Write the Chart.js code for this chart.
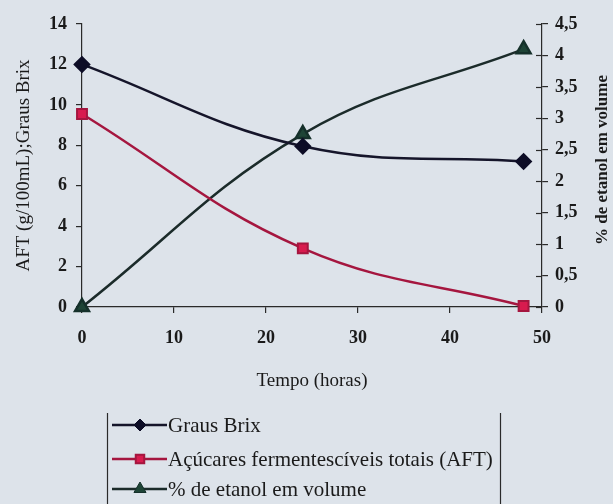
<!DOCTYPE html>
<html>
<head>
<meta charset="utf-8">
<script src="https://cdn.jsdelivr.net/npm/chart.js@4.4.1/dist/chart.umd.min.js"></script>
<style>
  body { margin: 0; background: #dde3ea; }
  canvas { display: block; }
</style>
</head>
<body>
<canvas id="grafico" width="613" height="504"></canvas>
<script>
// dados
const tempo = [0, 24, 48];
const grausBrix = [12, 7.95, 7.2];
const aft = [9.55, 2.9, 0.05];
const etanol = [0, 2.75, 4.1];
const nomes = ['Graus Brix', 'Açúcares fermentescíveis totais (AFT)', '% de etanol em volume'];
const ticksX = [0, 10, 20, 30, 40, 50];

const fonte = "'Liberation Serif', 'Times New Roman', serif";
const corTexto = '#1a1a1a';
const corEixo = '#2a2a2a';

const pontos = (ys) => tempo.map((t, i) => ({ x: t, y: ys[i] }));

const dados = {
    datasets: [{
        label: nomes[0],
        data: pontos(grausBrix),
        yAxisID: 'y',
        borderColor: '#15152a',
        pointBackgroundColor: '#0d0d26',
        pointBorderColor: '#0d0d26',
        pointStyle: 'rectRot',
        pointRadius: 7,
        borderWidth: 2.5,
        tension: 0.4
    }, {
        label: nomes[1],
        data: pontos(aft),
        yAxisID: 'y',
        borderColor: '#a5163f',
        pointBackgroundColor: '#d81b4e',
        pointBorderColor: '#a5163f',
        pointStyle: 'rect',
        pointRadius: 7,
        pointBorderWidth: 2,
        borderWidth: 2.5,
        tension: 0.4
    }, {
        label: nomes[2],
        data: pontos(etanol),
        yAxisID: 'y1',
        borderColor: '#1b2b2a',
        pointBackgroundColor: '#1e4436',
        pointBorderColor: '#15302a',
        pointStyle: 'triangle',
        pointRadius: 8,
        borderWidth: 2.5,
        tension: 0.4
    }]
};

// fundo, ticks internos do eixo direito, título direito e legenda
const extras = {
    id: 'extras',
    beforeDraw(chart) {
        const ctx = chart.ctx;
        ctx.save();
        ctx.fillStyle = '#dde3ea';
        ctx.fillRect(0, 0, chart.width, chart.height);
        ctx.restore();
    },
    afterDraw(chart) {
        const ctx = chart.ctx;
        const y1 = chart.scales.y1;
        ctx.save();
        ctx.strokeStyle = corEixo;
        ctx.lineWidth = 1.2;
        y1.ticks.forEach(t => {
            const py = Math.round(y1.getPixelForValue(t.value)) + 0.5;
            ctx.beginPath();
            ctx.moveTo(y1.left - 6, py);
            ctx.lineTo(y1.left, py);
            ctx.stroke();
        });

        // título do eixo direito (lido de baixo para cima)
        ctx.translate(603, 160);
        ctx.rotate(-Math.PI / 2);
        ctx.fillStyle = corTexto;
        ctx.font = 'bold 17px ' + fonte;
        ctx.textAlign = 'center';
        ctx.textBaseline = 'middle';
        ctx.fillText('% de etanol em volume', 0, 0);
        ctx.restore();

        // legenda
        ctx.save();
        ctx.strokeStyle = corEixo;
        ctx.lineWidth = 1.2;
        [107, 500].forEach(x => {
            ctx.beginPath();
            ctx.moveTo(x + 0.5, 413);
            ctx.lineTo(x + 0.5, 504);
            ctx.stroke();
        });
        const linhas = [425, 459, 489];
        chart.data.datasets.forEach((ds, i) => {
            const y = linhas[i];
            ctx.strokeStyle = ds.borderColor;
            ctx.lineWidth = 2.5;
            ctx.beginPath();
            ctx.moveTo(112, y);
            ctx.lineTo(167, y);
            ctx.stroke();
            ctx.fillStyle = ds.pointBackgroundColor;
            ctx.strokeStyle = ds.pointBorderColor;
            ctx.lineWidth = ds.pointBorderWidth || 1;
            Chart.helpers.drawPoint(ctx, {
                pointStyle: ds.pointStyle,
                radius: ds.pointRadius - 1,
                rotation: 0,
                borderWidth: ds.pointBorderWidth || 1
            }, 140, y);
            ctx.fillStyle = corTexto;
            ctx.font = '21px ' + fonte;
            ctx.textAlign = 'left';
            ctx.textBaseline = 'middle';
            ctx.fillText(ds.label, 168, y + 1);
        });
        ctx.restore();
    }
};

const eixoGrid = {
    display: true,
    drawOnChartArea: false,
    drawTicks: true,
    tickLength: 6,
    color: corEixo,
    lineWidth: 1.2
};

const config = {
    type: 'line',
    data: dados,
    options: {
        responsive: false,
        animation: false,
        clip: false,
        layout: { padding: { top: 24, left: 0, right: 0, bottom: 0 } },
        plugins: {
            legend: { display: false },
            tooltip: { enabled: false }
        },
        scales: {
            x: {
                type: 'linear',
                min: 0,
                max: 50,
                afterFit: (s) => { s.height = 197; },
                afterBuildTicks: (s) => { s.ticks = ticksX.map(v => ({ value: v })); },
                ticks: { color: corTexto, font: { family: fonte, size: 18, weight: 'bold' }, padding: 15 },
                grid: eixoGrid,
                border: { color: corEixo, width: 1.2 },
                title: {
                    display: true,
                    text: 'Tempo (horas)',
                    color: corTexto,
                    font: { family: fonte, size: 19 },
                    padding: { top: 0, bottom: 112 }
                }
            },
            y: {
                position: 'left',
                min: 0,
                max: 14,
                afterFit: (s) => { s.width = 82; },
                ticks: { stepSize: 2, color: corTexto, font: { family: fonte, size: 18, weight: 'bold' }, padding: 9 },
                grid: eixoGrid,
                border: { color: corEixo, width: 1.2 },
                title: {
                    display: true,
                    text: 'AFT (g/100mL);Graus Brix',
                    color: corTexto,
                    font: { family: fonte, size: 19 },
                    padding: { top: 13, bottom: 0 }
                }
            },
            y1: {
                position: 'right',
                min: 0,
                max: 4.5,
                afterFit: (s) => { s.width = 71; },
                ticks: {
                    stepSize: 0.5,
                    color: corTexto,
                    font: { family: fonte, size: 18, weight: 'bold' },
                    padding: 7,
                    callback: (v) => String(v).replace('.', ',')
                },
                grid: eixoGrid,
                border: { color: corEixo, width: 1.2 }
            }
        }
    },
    plugins: [extras]
};

const grafico = new Chart(document.getElementById('grafico'), config);
</script>
</body>
</html>
